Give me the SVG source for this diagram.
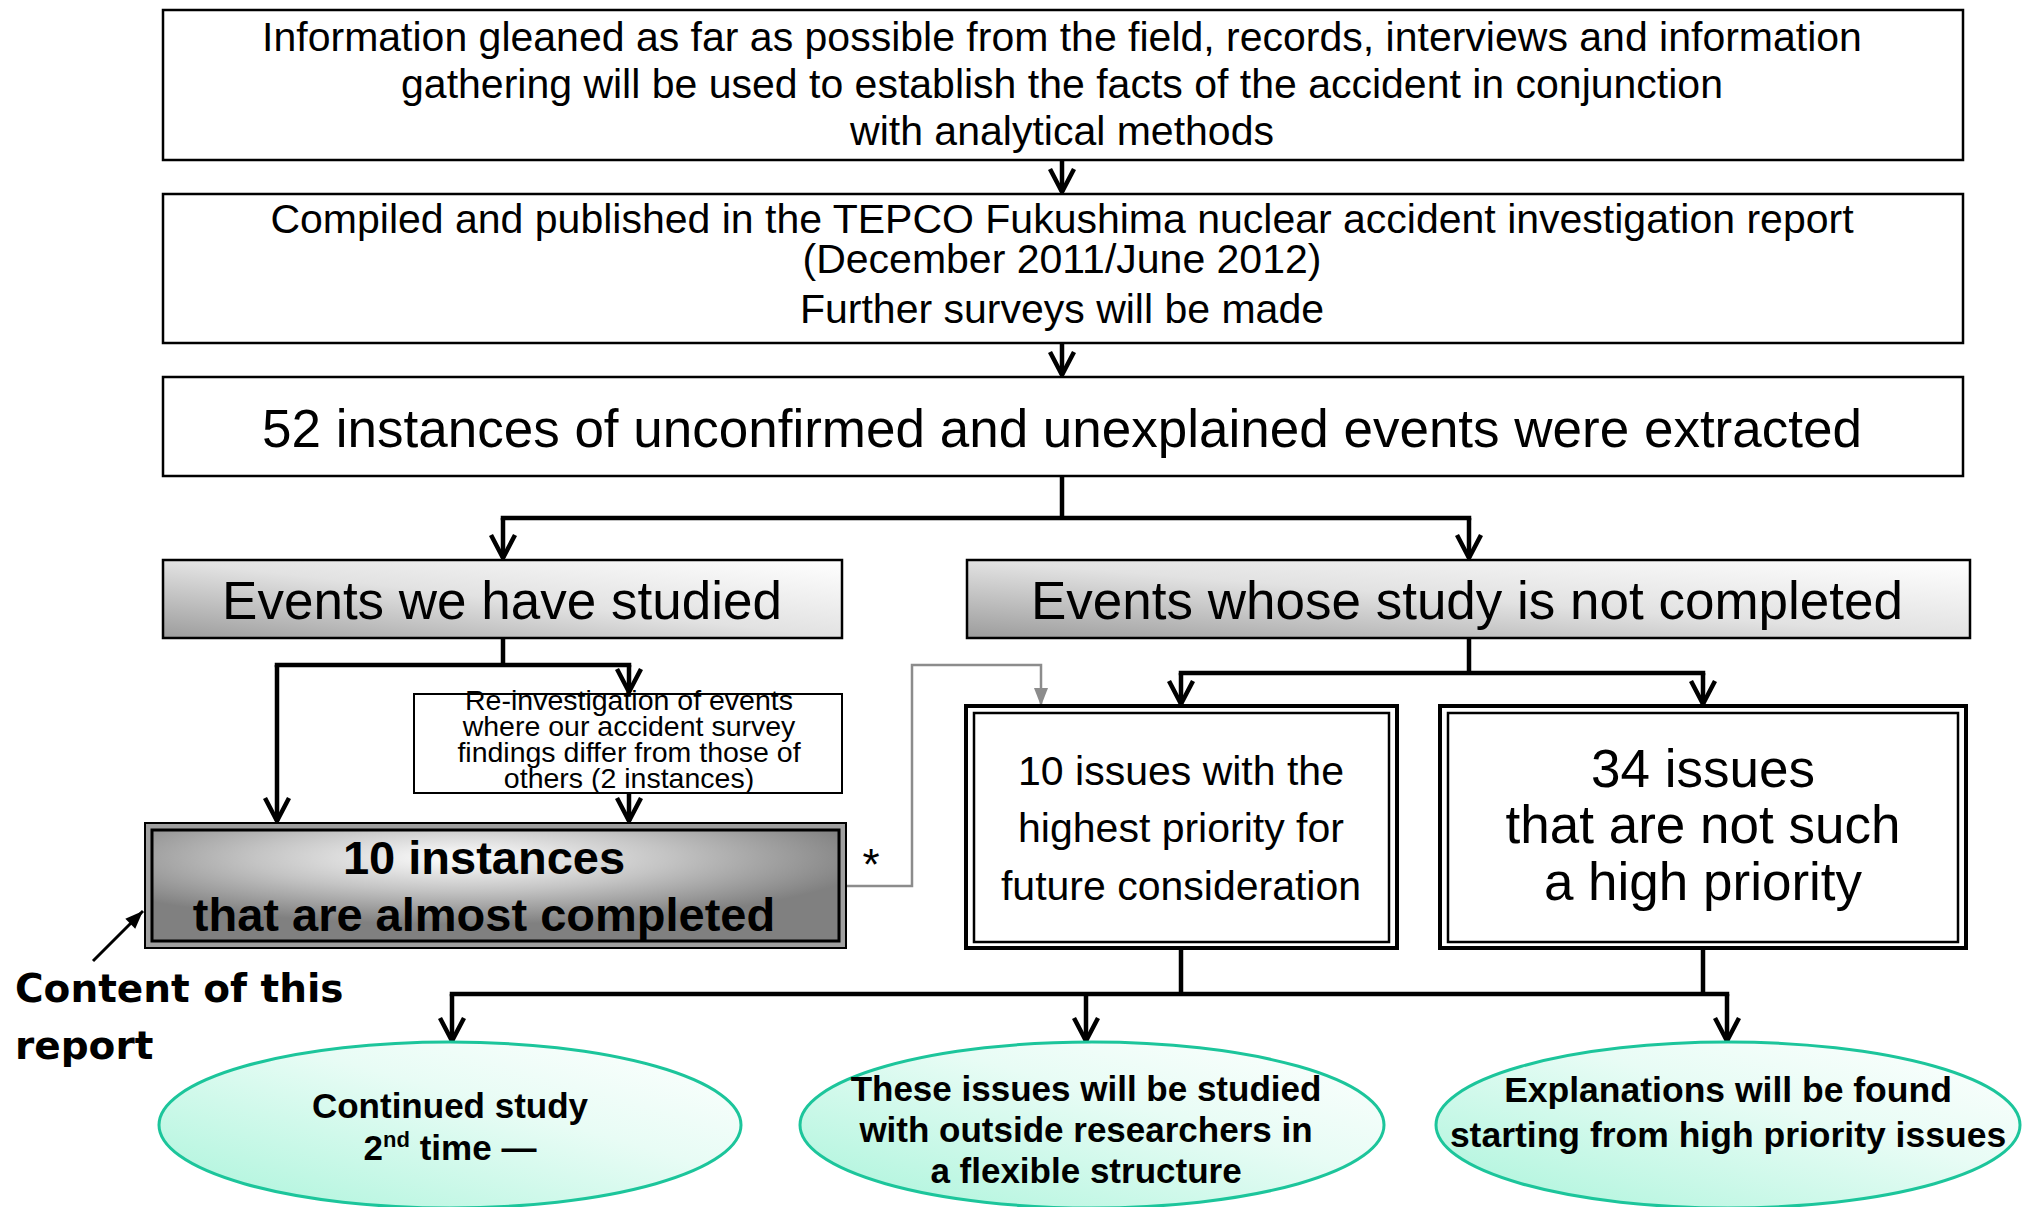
<svg xmlns="http://www.w3.org/2000/svg" width="2029" height="1207" viewBox="0 0 2029 1207">
<defs>
<style>
.box{fill:#fff;stroke:#000;stroke-width:2.5}
.t{font-family:"Liberation Sans",Arial,sans-serif;fill:#000;text-anchor:middle}
.b{font-weight:bold}
.c{fill:none;stroke:#000;stroke-width:4.5}
.h{fill:none;stroke:#000;stroke-width:4.5;stroke-linecap:square}
.g{fill:none;stroke:#8c8c8c;stroke-width:2.5}
.ell{stroke:#1cc59b;stroke-width:3;fill:url(#mint)}
.ev{fill:url(#grey);stroke:#000;stroke-width:2.5}
</style>
<linearGradient id="grey" x1="0" y1="1" x2="1" y2="0">
<stop offset="0" stop-color="#9c9c9c"/>
<stop offset="0.5" stop-color="#e2e2e2"/>
<stop offset="1" stop-color="#ffffff"/>
</linearGradient>
<radialGradient id="dark" cx="0.45" cy="0.25" r="0.6">
<stop offset="0" stop-color="#ffffff"/>
<stop offset="0.5" stop-color="#c4c4c4"/>
<stop offset="1" stop-color="#808080"/>
</radialGradient>
<linearGradient id="mint" x1="0" y1="1" x2="1" y2="0">
<stop offset="0" stop-color="#a9f4da"/>
<stop offset="0.6" stop-color="#e8fcf5"/>
<stop offset="1" stop-color="#ffffff"/>
</linearGradient>
<marker id="arr" viewBox="0 0 26 26" refX="24" refY="13" markerWidth="26" markerHeight="26" markerUnits="userSpaceOnUse" orient="auto" overflow="visible">
<path d="M1,1 L24,13 L1,25" fill="none" stroke="#000" stroke-width="4.5"/>
</marker>
<marker id="garr" viewBox="0 0 18 14" refX="18" refY="7" markerWidth="18" markerHeight="14" markerUnits="userSpaceOnUse" orient="auto" overflow="visible">
<path d="M0,0 L18,7 L0,14 z" fill="#8c8c8c"/>
</marker>
<marker id="parr" viewBox="0 0 18 14" refX="18" refY="7" markerWidth="18" markerHeight="14" markerUnits="userSpaceOnUse" orient="auto" overflow="visible">
<path d="M0,0 L18,7 L0,14 z" fill="#000"/>
</marker>
</defs>

<g id="connectors">
<path class="c" d="M1062,160 V192" marker-end="url(#arr)"/>
<path class="c" d="M1062,343 V375" marker-end="url(#arr)"/>
<path class="c" d="M1062,476 V518"/>
<path class="h" d="M503,518 H1469"/>
<path class="c" d="M503,518 V558" marker-end="url(#arr)"/>
<path class="c" d="M1469,518 V558" marker-end="url(#arr)"/>
<path class="c" d="M503,638 V665"/>
<path class="h" d="M277,665 H629"/>
<path class="c" d="M277,665 V821" marker-end="url(#arr)"/>
<path class="c" d="M629,665 V692" marker-end="url(#arr)"/>
<path class="c" d="M629,793 V821" marker-end="url(#arr)"/>
<path class="g" d="M846,886 H912 V665 H1041 V706" marker-end="url(#garr)"/>
<path class="c" d="M1469,638 V673"/>
<path class="h" d="M1181,673 H1703"/>
<path class="c" d="M1181,673 V704" marker-end="url(#arr)"/>
<path class="c" d="M1703,673 V704" marker-end="url(#arr)"/>
<path class="c" d="M1181,948 V994"/>
<path class="c" d="M1703,948 V994"/>
<path class="h" d="M452,994 H1727"/>
<path class="c" d="M452,994 V1041" marker-end="url(#arr)"/>
<path class="c" d="M1086,994 V1041" marker-end="url(#arr)"/>
<path class="c" d="M1727,994 V1041" marker-end="url(#arr)"/>
<path d="M93,961 L143,911" fill="none" stroke="#000" stroke-width="3" marker-end="url(#parr)"/>
</g>

<g id="n1">
<rect class="box" x="163" y="10" width="1800" height="150"/>
<text class="t" font-size="41"><tspan x="1062" y="51">Information gleaned as far as possible from the field, records, interviews and information</tspan><tspan x="1062" y="98">gathering will be used to establish the facts of the accident in conjunction</tspan><tspan x="1062" y="145">with analytical methods</tspan></text>
</g>

<g id="n2">
<rect class="box" x="163" y="194" width="1800" height="149"/>
<text class="t" font-size="41"><tspan x="1062" y="233">Compiled and published in the TEPCO Fukushima nuclear accident investigation report</tspan><tspan x="1062" y="273">(December 2011/June 2012)</tspan><tspan x="1062" y="323">Further surveys will be made</tspan></text>
</g>

<g id="n3">
<rect class="box" x="163" y="377" width="1800" height="99"/>
<text class="t" font-size="53" x="1062" y="447">52 instances of unconfirmed and unexplained events were extracted</text>
</g>

<g id="n4">
<rect class="ev" x="163" y="560" width="679" height="78"/>
<text class="t" font-size="53" x="502" y="619">Events we have studied</text>
</g>

<g id="n5">
<rect class="ev" x="967" y="560" width="1003" height="78"/>
<text class="t" font-size="53" x="1467" y="619">Events whose study is not completed</text>
</g>

<g id="n6">
<rect class="box" x="414" y="694" width="428" height="99" style="stroke-width:2"/>
<text class="t" font-size="28.5"><tspan x="629" y="710">Re-investigation of events</tspan><tspan x="629" y="736">where our accident survey</tspan><tspan x="629" y="762">findings differ from those of</tspan><tspan x="629" y="788">others (2 instances)</tspan></text>
</g>

<g id="n7">
<rect x="145" y="823" width="701" height="125" fill="#a0a0a0" stroke="#000" stroke-width="2"/>
<rect x="152" y="830" width="687" height="111" fill="url(#dark)" stroke="#000" stroke-width="3"/>
<text class="t b" font-size="47"><tspan x="484" y="874">10 instances</tspan><tspan x="484" y="931">that are almost completed</tspan></text>
</g>

<text id="asterisk" class="t" font-size="44" x="871" y="880">*</text>

<g id="n8">
<rect x="966" y="706" width="431" height="242" fill="#fff" stroke="#000" stroke-width="4"/>
<rect x="974" y="713" width="415" height="229" fill="none" stroke="#000" stroke-width="2.5"/>
<text class="t" font-size="41"><tspan x="1181" y="785">10 issues with the</tspan><tspan x="1181" y="842">highest priority for</tspan><tspan x="1181" y="900">future consideration</tspan></text>
</g>

<g id="n9">
<rect x="1440" y="706" width="526" height="242" fill="#fff" stroke="#000" stroke-width="4"/>
<rect x="1448" y="713" width="510" height="229" fill="none" stroke="#000" stroke-width="2.5"/>
<text class="t" font-size="53"><tspan x="1703" y="787">34 issues</tspan><tspan x="1703" y="843">that are not such</tspan><tspan x="1703" y="900">a high priority</tspan></text>
</g>

<g id="e1">
<ellipse class="ell" cx="450" cy="1125" rx="291" ry="83"/>
<text class="t b" font-size="35"><tspan x="450" y="1118">Continued study</tspan><tspan x="450" y="1160">2<tspan font-size="22" dy="-13">nd</tspan><tspan dy="13"> time —</tspan></tspan></text>
</g>

<g id="e2">
<ellipse class="ell" cx="1092" cy="1125" rx="292" ry="83"/>
<text class="t b" font-size="35"><tspan x="1086" y="1101">These issues will be studied</tspan><tspan x="1086" y="1142">with outside researchers in</tspan><tspan x="1086" y="1183">a flexible structure</tspan></text>
</g>

<g id="e3">
<ellipse class="ell" cx="1728" cy="1125" rx="292" ry="83"/>
<text class="t b" font-size="35.5"><tspan x="1728" y="1102">Explanations will be found</tspan><tspan x="1728" y="1147">starting from high priority issues</tspan></text>
</g>

<g id="label">
<text font-family="'DejaVu Sans',Verdana,sans-serif" font-weight="bold" font-size="39"><tspan x="15" y="1002">Content of this</tspan><tspan x="15" y="1059">report</tspan></text>
</g>
</svg>
